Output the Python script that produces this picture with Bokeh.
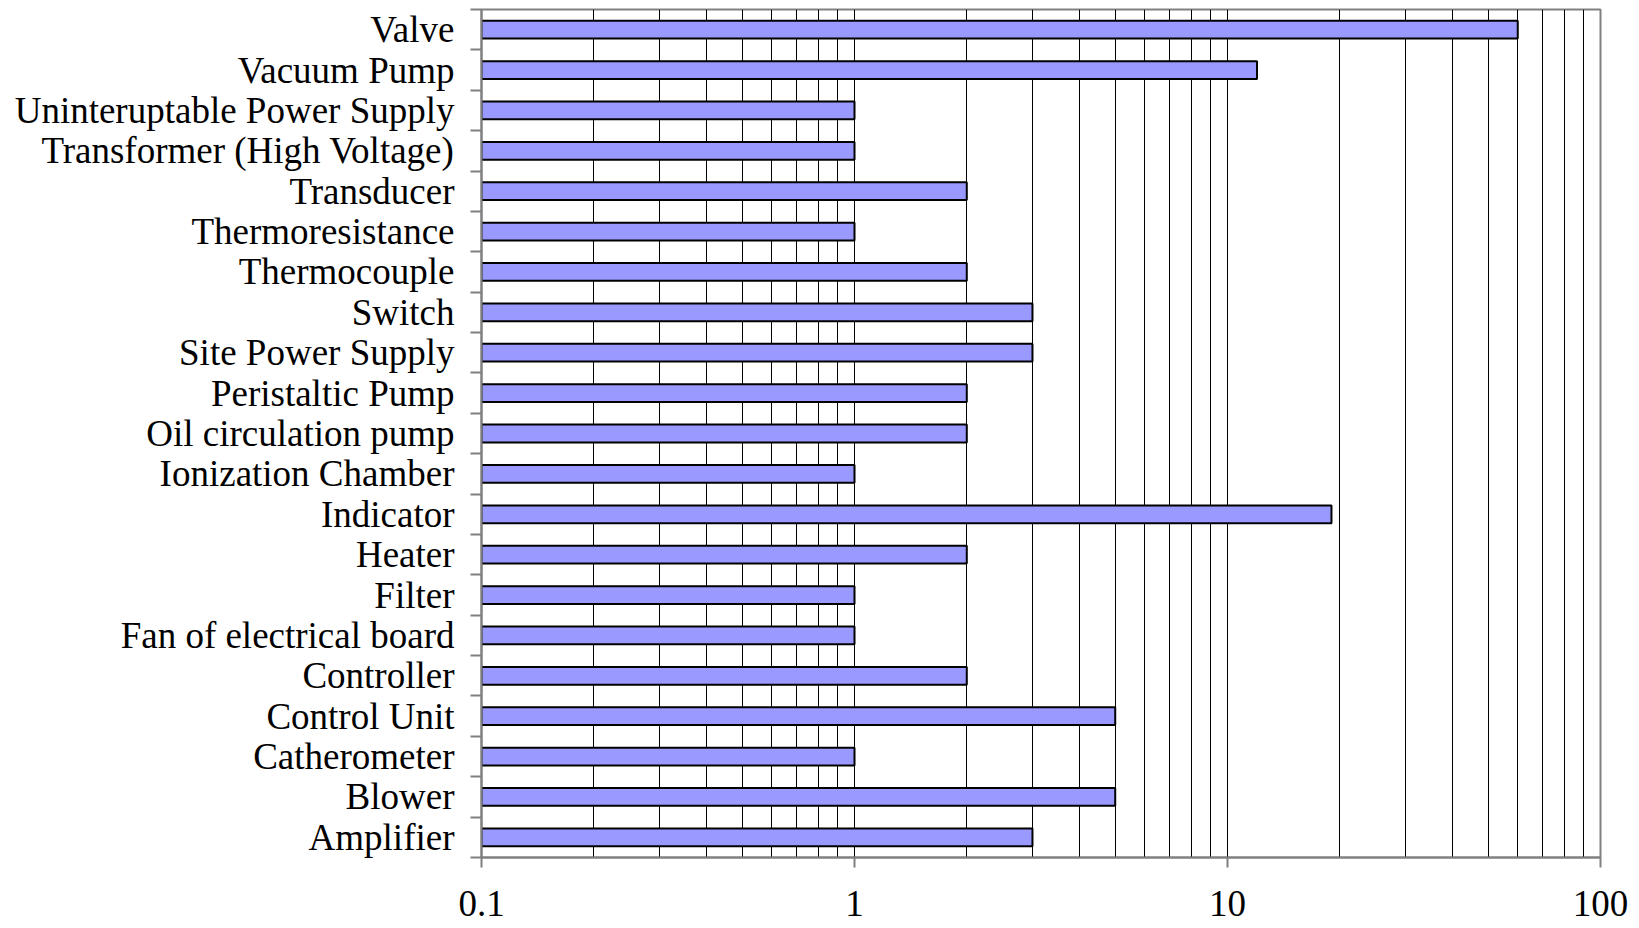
from bokeh.plotting import figure
from bokeh.models import Range1d, FixedTicker, BasicTickFormatter, ColumnDataSource
from bokeh.embed import file_html
from bokeh.resources import INLINE

# categories listed top to bottom as in the chart
categories = ["Valve", "Vacuum Pump", "Uninteruptable Power Supply",
              "Transformer (High Voltage)", "Transducer", "Thermoresistance",
              "Thermocouple", "Switch", "Site Power Supply", "Peristaltic Pump",
              "Oil circulation pump", "Ionization Chamber", "Indicator", "Heater",
              "Filter", "Fan of electrical board", "Controller", "Control Unit",
              "Catherometer", "Blower", "Amplifier"]
values = [60, 12, 1, 1, 2, 1, 2, 3, 3, 2, 2, 1, 19, 2, 1, 1, 2, 5, 1, 5, 3]
x_major = [0.1, 1, 10, 100]
x_labels = ["0.1", "1", "10", "100"]
x_minor = [m * d for d in (0.1, 1, 10) for m in range(2, 10)]

n = len(categories)
ypos = [n - 1 - i + 0.5 for i in range(n)]
src = ColumnDataSource(dict(y=ypos, right=values, left=[x_major[0]] * n, name=categories))

FONT = "Liberation Serif"

p = figure(width=1639, height=928, x_axis_type="log",
           x_range=Range1d(x_major[0], x_major[-1]), y_range=Range1d(0, n),
           output_backend="svg", toolbar_location=None,
           min_border_left=481, min_border_right=39, min_border_top=9, min_border_bottom=71)

p.hbar(y="y", left="left", right="right", height=0.44, source=src,
       fill_color="#9999FF", line_color="black", line_width=2)

p.background_fill_color = "white"
p.border_fill_color = "white"
p.outline_line_color = "#808080"
p.outline_line_width = 2

# x axis
xt = FixedTicker(ticks=x_major, minor_ticks=x_minor)
p.xaxis.ticker = xt
p.xaxis.formatter = BasicTickFormatter()
p.xaxis.major_label_overrides = {float(v): s for v, s in zip(x_major, x_labels)}
p.xaxis.major_label_text_font = FONT
p.xaxis.major_label_text_font_size = "37px"
p.xaxis.major_label_text_color = "black"
p.xaxis.major_label_standoff = 23
p.xaxis.major_tick_out = 10
p.xaxis.major_tick_in = 0
p.xaxis.minor_tick_out = 0
p.xaxis.minor_tick_in = 0
p.xaxis.axis_line_color = "#808080"
p.xaxis.axis_line_width = 2
p.xaxis.major_tick_line_color = "#808080"
p.xaxis.major_tick_line_width = 2

p.xgrid.ticker = xt
p.xgrid.grid_line_color = "black"
p.xgrid.grid_line_width = 1
p.xgrid.minor_grid_line_color = "black"
p.xgrid.minor_grid_line_width = 1
p.ygrid.visible = False

# y axis: labels at row centres, tick marks at row boundaries
yt = FixedTicker(ticks=ypos, minor_ticks=list(range(n + 1)))
p.yaxis.ticker = yt
p.yaxis.major_label_overrides = {float(y): c for y, c in zip(ypos, categories)}
p.yaxis.major_label_text_font = FONT
p.yaxis.major_label_text_font_size = "37px"
p.yaxis.major_label_text_color = "black"
p.yaxis.major_label_standoff = 16
p.yaxis.major_tick_line_color = None
p.yaxis.major_tick_out = 0
p.yaxis.major_tick_in = 0
p.yaxis.minor_tick_out = 11
p.yaxis.minor_tick_in = 0
p.yaxis.minor_tick_line_color = "#808080"
p.yaxis.minor_tick_line_width = 2
p.yaxis.axis_line_color = "#808080"
p.yaxis.axis_line_width = 2

open("out.html", "w").write(file_html(p, INLINE))
